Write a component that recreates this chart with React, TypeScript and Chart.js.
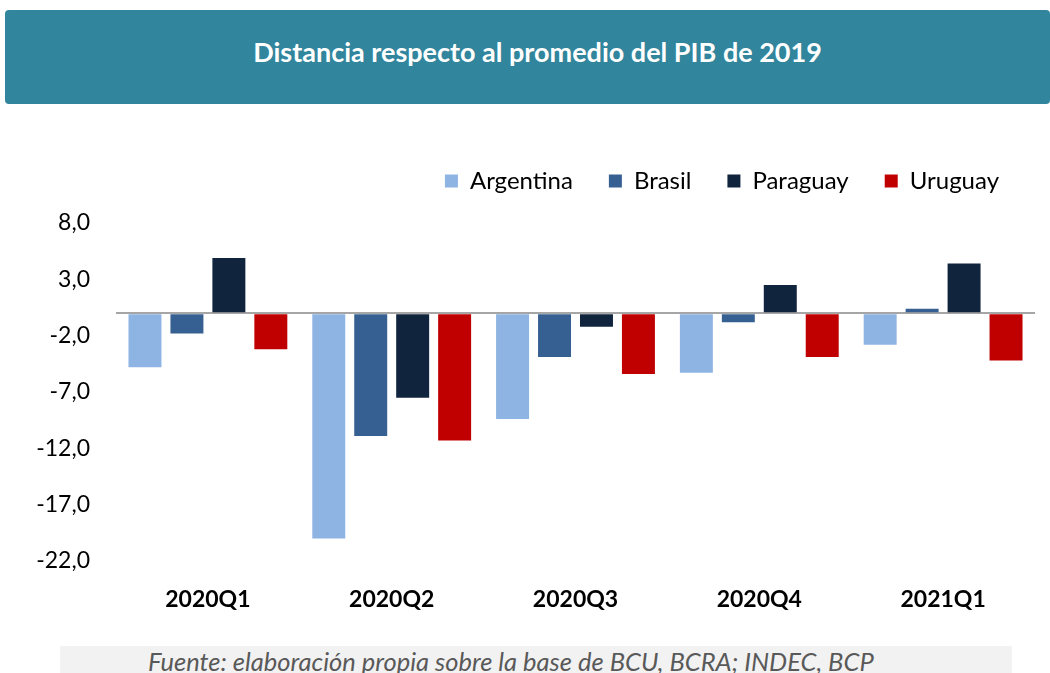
import React, { useEffect, useRef } from 'react';
import { Chart, registerables } from 'chart.js';

Chart.register(...registerables);

const categories = ['2020Q1', '2020Q2', '2020Q3', '2020Q4', '2021Q1'];
const argentina = [-4.8, -20.0, -9.4, -5.3, -2.8];
const brasil = [-1.8, -10.9, -3.9, -0.8, 0.4];
const paraguay = [4.9, -7.5, -1.2, 2.5, 4.4];
const uruguay = [-3.2, -11.3, -5.4, -3.9, -4.2];
const yTicks = [-22, -17, -12, -7, -2, 3, 8];

const titleText = 'Distancia respecto al promedio del PIB de 2019';
const sourceText = 'Fuente: elaboración propia sobre la base de BCU, BCRA; INDEC, BCP';

const FONT = 'Lato, "Open Sans", sans-serif';

export default function App() {
  const canvasRef = useRef<HTMLCanvasElement | null>(null);

  useEffect(() => {
    if (!canvasRef.current) return;
    const chart = new Chart(canvasRef.current, {
      type: 'bar',
      data: {
        labels: categories,
        datasets: [
          { label: 'Argentina', data: argentina, backgroundColor: '#8EB4E3' },
          { label: 'Brasil', data: brasil, backgroundColor: '#376092' },
          { label: 'Paraguay', data: paraguay, backgroundColor: '#10243E' },
          { label: 'Uruguay', data: uruguay, backgroundColor: '#C00000' },
        ],
      },
      options: {
        animation: false,
        responsive: false,
        devicePixelRatio: 1,
        layout: { padding: { left: 0, right: 15, top: 0, bottom: 0 } },
        datasets: {
          bar: { categoryPercentage: 0.913, barPercentage: 0.786 },
        },
        plugins: {
          tooltip: { enabled: false },
          legend: {
            display: true,
            position: 'top',
            align: 'end',
            labels: {
              boxWidth: 13,
              boxHeight: 13,
              padding: 36,
              color: '#000000',
              font: { family: FONT, size: 24 },
            },
          },
          title: {
            display: true,
            text: '',
            position: 'top',
            weight: 100,
            padding: { top: 0, bottom: 10 },
            font: { size: 10, lineHeight: 1 },
          },
        },
        scales: {
          x: {
            grid: { display: false, drawTicks: false },
            border: { display: false },
            ticks: {
              color: '#000000',
              padding: 25,
              font: { family: FONT, size: 23, weight: 'bold' },
            },
            afterFit: (scale: any) => {
              scale.height = 60;
            },
          },
          y: {
            min: -22,
            max: 8,
            border: { display: false },
            afterBuildTicks: (scale: any) => {
              scale.ticks = yTicks.concat([0]).sort((a, b) => a - b).map((v) => ({ value: v }));
            },
            afterFit: (scale: any) => {
              scale.width = 116;
            },
            grid: {
              drawTicks: false,
              lineWidth: 2,
              color: (ctx: any) => (ctx.tick && ctx.tick.value === 0 ? '#A6A6A6' : 'rgba(0,0,0,0)'),
            },
            ticks: {
              color: '#000000',
              padding: 26,
              font: { family: FONT, size: 23 },
              callback: (v: any) => (Number(v) === 0 ? '' : Number(v).toFixed(1).replace('.', ',')),
            },
          },
        },
      },
    });
    return () => chart.destroy();
  }, []);

  return (
    <div
      style={{
        position: 'absolute',
        left: 0,
        top: 0,
        width: 1050,
        height: 673,
        overflow: 'hidden',
        background: '#ffffff',
        fontFamily: FONT,
      }}
    >
      <div
        style={{
          position: 'absolute',
          left: 5,
          top: 10,
          width: 1045,
          height: 94,
          background: '#31859C',
          borderRadius: 4,
          display: 'flex',
          alignItems: 'center',
          justifyContent: 'center',
          paddingLeft: 20,
          paddingBottom: 12,
          boxSizing: 'border-box',
          color: '#ffffff',
          fontWeight: 'bold',
          fontSize: 27,
          whiteSpace: 'nowrap',
        }}
      >
        {titleText}
      </div>
      <canvas
        ref={canvasRef}
        width={1050}
        height={488}
        style={{ position: 'absolute', left: 0, top: 133, width: 1050, height: 488 }}
      />
      <div
        style={{
          position: 'absolute',
          left: 60,
          top: 646,
          width: 952,
          height: 27,
          background: '#F2F2F2',
        }}
      />
      <div
        style={{
          position: 'absolute',
          left: 148,
          top: 646,
          height: 27,
          lineHeight: '30px',
          whiteSpace: 'nowrap',
          fontStyle: 'italic',
          fontSize: 25.5,
          color: '#595959',
        }}
      >
        {sourceText}
      </div>
    </div>
  );
}
